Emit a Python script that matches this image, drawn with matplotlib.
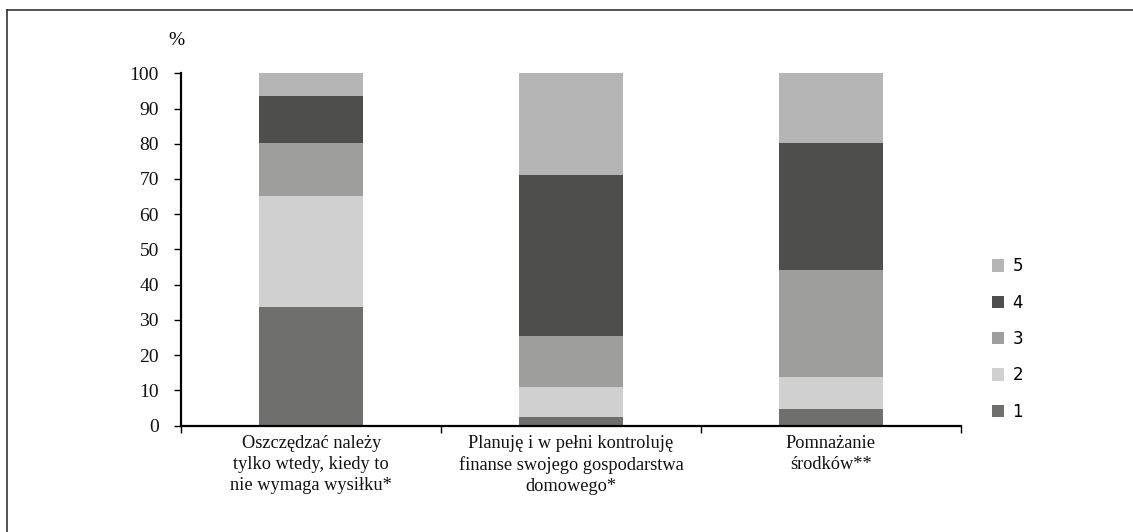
import matplotlib.pyplot as plt
from matplotlib.patches import Patch
from matplotlib.lines import Line2D
import numpy as np

categories = [
    "Oszczędzać należy\ntylko wtedy, kiedy to\nnie wymaga wysiłku*",
    "Planuję i w pełni kontroluję\nfinanse swojego gospodarstwa\ndomowego*",
    "Pomnażanie\nśrodków**",
]
levels = ["1", "2", "3", "4", "5"]
shares = {
    "1": [33.7, 2.4, 4.7],
    "2": [31.6, 8.5, 9.1],
    "3": [15.0, 14.5, 30.3],
    "4": [13.2, 45.7, 36.0],
    "5": [6.5, 28.9, 19.9],
}
colors = {
    "1": "#6f6f6d",
    "2": "#d0d0d0",
    "3": "#9e9e9c",
    "4": "#4e4e4c",
    "5": "#b5b5b5",
}

serif = "Liberation Serif"

fig = plt.figure(figsize=(11.33, 5.32), dpi=100)
ax = fig.add_axes([0.16, 0.1998, 0.688, 0.6625])

x = np.arange(len(categories))
bottom = np.zeros(len(categories))
for lvl in levels:
    vals = np.array(shares[lvl])
    ax.bar(x, vals, width=0.4, bottom=bottom, color=colors[lvl], linewidth=0)
    bottom += vals

ax.set_xlim(-0.5, 2.5)
ax.set_ylim(0, 100)
ax.set_yticks(range(0, 101, 10))
ax.set_xticks(x)
ax.set_xticklabels(categories, fontfamily=serif, fontsize=13.2, linespacing=1.3,
                   color="#111111")
ax.set_xticks([-0.5, 0.5, 1.5, 2.5], minor=True)
ax.tick_params(axis="x", which="major", length=0, pad=7)
ax.tick_params(axis="x", which="minor", length=5, width=1, direction="out")
ax.tick_params(axis="y", length=5, width=1, pad=11, labelsize=14,
               labelcolor="#111111")
for lab in ax.get_yticklabels():
    lab.set_fontfamily(serif)

for side in ("top", "right"):
    ax.spines[side].set_visible(False)
for side in ("left", "bottom"):
    ax.spines[side].set_linewidth(1.6)

ax.text(-0.006, 1.094, "%", transform=ax.transAxes, ha="center", va="center",
        fontfamily=serif, fontsize=14)

handles = [Patch(facecolor=colors[l], edgecolor="none") for l in reversed(levels)]
fig.legend(handles, list(reversed(levels)), loc="center left",
           bbox_to_anchor=(0.862, 0.363), frameon=False, fontsize=12,
           handlelength=0.75, handleheight=0.75, handletextpad=0.5,
           labelspacing=1.1)

# frame along the top and left edges
fig.add_artist(Line2D([0.0065, 1.0], [0.981, 0.981], color="#333333", lw=1.2,
                      transform=fig.transFigure))
fig.add_artist(Line2D([0.0065, 0.0065], [0.0, 0.981], color="#333333", lw=1.2,
                      transform=fig.transFigure))

fig.savefig("out.png", dpi=100)
